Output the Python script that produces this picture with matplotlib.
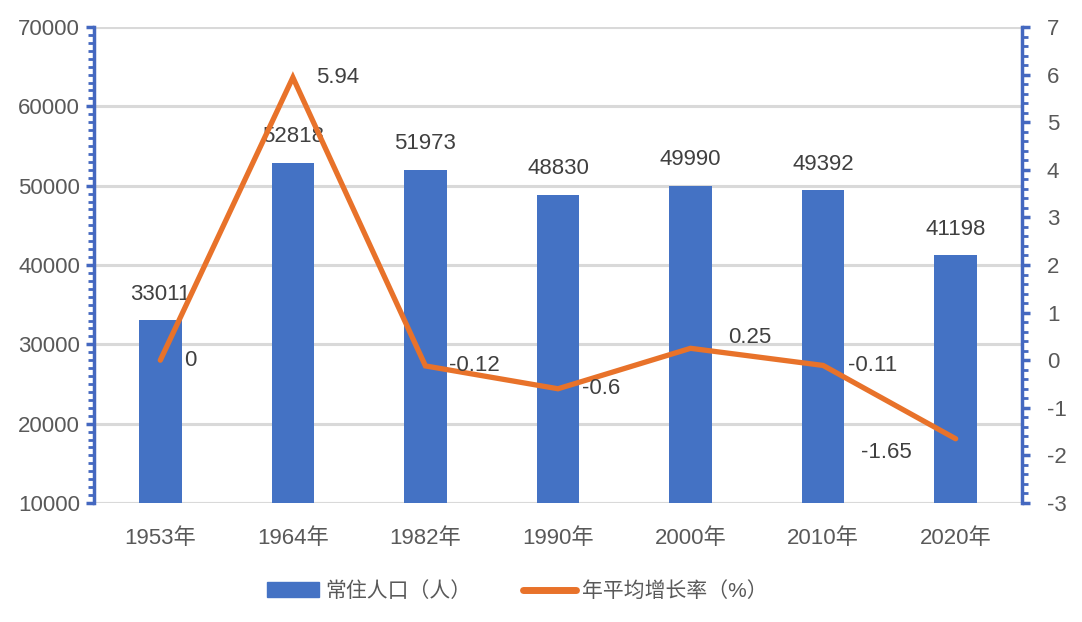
import matplotlib.pyplot as plt
from matplotlib.ticker import MultipleLocator
from matplotlib.patches import Patch
from matplotlib.lines import Line2D

plt.rcParams['font.family'] = ['Liberation Sans', 'Noto Sans CJK SC', 'DejaVu Sans']
plt.rcParams['axes.unicode_minus'] = False

# data
years = ["1953年", "1964年", "1982年", "1990年", "2000年", "2010年", "2020年"]
population = [33011, 52818, 51973, 48830, 49990, 49392, 41198]
growth = [0, 5.94, -0.12, -0.6, 0.25, -0.11, -1.65]
growth_labels = ["0", "5.94", "-0.12", "-0.6", "0.25", "-0.11", "-1.65"]

barColor = "#4472C4"
lineColor = "#E8722A"
axisBlue = "#4468C0"
textColor = "#595959"
labelColor = "#404040"
fs = 16

fig = plt.figure(figsize=(10.82, 6.22), dpi=100)
ax = fig.add_axes([0.0869, 0.1913, 0.8576, 0.7653])
ax2 = ax.twinx()

x = list(range(len(years)))

# bars
ax.bar(x, population, width=0.32, color=barColor, zorder=2)
ax.set_ylim(10000, 70000)
ax.set_xlim(-0.5, len(years) - 0.5)
ax.yaxis.set_major_locator(MultipleLocator(10000))
ax.yaxis.set_minor_locator(MultipleLocator(1000))
ax.grid(axis="y", color="#D9D9D9", linewidth=2.2, zorder=0)
ax.set_axisbelow(True)
ax.set_xticks(x)
ax.set_xticklabels(years)

for xi, v in zip(x, population):
    ax.annotate(str(v), (xi, v), xytext=(0, 19), textcoords="offset points",
                ha="center", va="center", fontsize=fs, color=labelColor, zorder=5)

# line
ax2.plot(x, growth, color=lineColor, linewidth=3.8, solid_capstyle="round",
         solid_joinstyle="miter", zorder=3)
ax2.set_ylim(-3, 7)
ax2.yaxis.set_major_locator(MultipleLocator(1))
ax2.yaxis.set_minor_locator(MultipleLocator(0.2))

offsets = [(17, 0), (17, 0), (17, 0), (17, 0), (27, 8), (18, 0), (-68, -10)]
for xi, v, lab, off in zip(x, growth, growth_labels, offsets):
    ax2.annotate(lab, (xi, v), xytext=off, textcoords="offset points",
                 ha="left", va="center", fontsize=fs, color=labelColor, zorder=5)

# spines and ticks
for a in (ax, ax2):
    for side in ("top", "left", "right", "bottom"):
        a.spines[side].set_visible(False)

ax.spines["left"].set_visible(True)
ax.spines["left"].set_color(axisBlue)
ax.spines["left"].set_linewidth(2.5)
ax2.spines["right"].set_visible(True)
ax2.spines["right"].set_color(axisBlue)
ax2.spines["right"].set_linewidth(2.5)
ax.axhline(10000, color="#D9D9D9", linewidth=2.2, zorder=1)

ax.tick_params(axis="y", which="major", direction="out", length=6, width=2.5,
               color=axisBlue, labelsize=fs, labelcolor=textColor, pad=4)
ax.tick_params(axis="y", which="minor", direction="out", length=4, width=2,
               color=axisBlue)
ax2.tick_params(axis="y", which="major", direction="out", length=6, width=2.5,
                color=axisBlue, labelsize=fs, labelcolor=textColor, pad=12)
ax2.tick_params(axis="y", which="minor", direction="out", length=4, width=2,
                color=axisBlue)
ax.tick_params(axis="x", length=0, labelsize=fs, labelcolor=textColor, pad=18)

# legend
handles = [Patch(color=barColor, label="常住人口（人）"),
           Line2D([0], [0], color=lineColor, linewidth=5, solid_capstyle="round",
                  label="年平均增长率（%）")]
fig.legend(handles=handles, loc="center", bbox_to_anchor=(0.478, 0.05), ncol=2,
           frameon=False, fontsize=15, labelcolor=textColor, handlelength=2.5,
           handleheight=0.7, columnspacing=2.5, handletextpad=0.3)

fig.savefig("out.png", dpi=100)
